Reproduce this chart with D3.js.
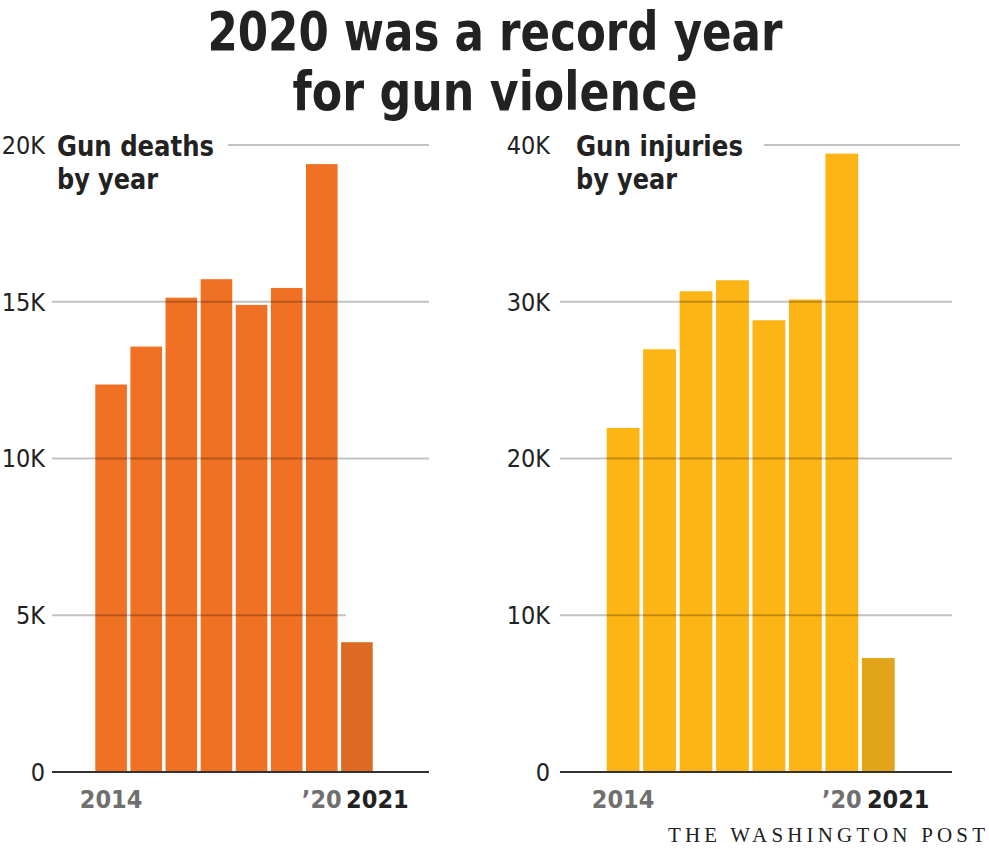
<!DOCTYPE html>
<html>
<head>
<meta charset="utf-8">
<script src="https://cdn.jsdelivr.net/npm/d3@7"></script>
<style>
  html, body { margin: 0; padding: 0; background: #fff; }
  svg { display: block; }
</style>
</head>
<body>
<svg id="chart" width="989" height="849"></svg>
<script>
// ---- data ----
const years = ["2014", "2015", "2016", "2017", "2018", "2019", "2020", "2021"];
const deaths = [12360, 13570, 15130, 15720, 14900, 15440, 19390, 4140];
const injuries = [21950, 26970, 30670, 31370, 28820, 30140, 39450, 7270];
const deathTicks = [0, 5000, 10000, 15000, 20000];
const deathTickLabels = ["0", "5K", "10K", "15K", "20K"];
const injuryTicks = [0, 10000, 20000, 30000, 40000];
const injuryTickLabels = ["0", "10K", "20K", "30K", "40K"];
const xLabelYears = ["2014", "2020", "2021"];
const xLabelTexts = ["2014", "\u201920", "2021"];
const titleLines = ["2020 was a record year", "for gun violence"];
const deathTitle = ["Gun deaths", "by year"];
const injuryTitle = ["Gun injuries", "by year"];
const credit = "THE WASHINGTON POST";

// ---- drawing ----
const svg = d3.select("#chart");
const condensed = "'Liberation Sans Narrow', 'DejaVu Sans Condensed', 'Arial Narrow', sans-serif";

svg.selectAll("text.title")
  .data(titleLines)
  .join("text")
  .attr("class", "title")
  .attr("x", 495)
  .attr("y", (d, i) => 50 + i * 60)
  .attr("text-anchor", "middle")
  .attr("font-family", condensed)
  .attr("font-weight", "bold")
  .attr("font-size", 54)
  .attr("fill", "#222")
  .attr("textLength", (d, i) => i === 0 ? 575 : 405)
  .attr("lengthAdjust", "spacingAndGlyphs")
  .text(d => d);

const panels = [
  {
    values: deaths, ticks: deathTicks, tickLabels: deathTickLabels, max: 20000,
    title: deathTitle, titleX: 57, titleW: [157, 101],
    barX0: 95.3, barX1: 372.7, gridX0: 52, gridX1: 429, topGridX0: 228,
    gridEnds: {5000: 346},
    color: "#f07124", lastColor: "#dc6a22", labelX: 45
  },
  {
    values: injuries, ticks: injuryTicks, tickLabels: injuryTickLabels, max: 40000,
    title: injuryTitle, titleX: 576, titleW: [167, 101],
    barX0: 606.7, barX1: 894.7, gridX0: 560, gridX1: 952, topGridX0: 764,
    gridEnds: {40000: 960},
    color: "#fdb515", lastColor: "#e2a51a", labelX: 550
  }
];

const yBase = 772, yTop = 145;

panels.forEach(p => {
  const g = svg.append("g");
  const x = d3.scaleBand().domain(years).range([p.barX0, p.barX1]).paddingInner(0.1).paddingOuter(0);
  const y = d3.scaleLinear().domain([0, p.max]).range([yBase, yTop]);

  // bars
  g.selectAll("rect.bar")
    .data(years.map((yr, i) => ({ yr, v: p.values[i], last: i === years.length - 1 })))
    .join("rect")
    .attr("class", "bar")
    .attr("x", d => x(d.yr))
    .attr("width", x.bandwidth())
    .attr("y", d => y(d.v))
    .attr("height", d => y(0) - y(d.v))
    .attr("fill", d => d.last ? p.lastColor : p.color);

  // gridlines (over bars)
  const gridTicks = p.ticks.filter(t => t !== 0);
  g.selectAll("line.grid")
    .data(gridTicks)
    .join("line")
    .attr("class", "grid")
    .attr("x1", t => t === p.max ? p.topGridX0 : p.gridX0)
    .attr("x2", t => p.gridEnds[t] !== undefined ? p.gridEnds[t] : p.gridX1)
    .attr("y1", t => y(t))
    .attr("y2", t => y(t))
    .attr("stroke", "#000")
    .attr("stroke-opacity", 0.24)
    .attr("stroke-width", 1.8);

  // baseline
  g.append("line")
    .attr("x1", p.gridX0).attr("x2", p.gridX1)
    .attr("y1", y(0)).attr("y2", y(0))
    .attr("stroke", "#333").attr("stroke-width", 2);

  // tick labels
  g.selectAll("text.tick")
    .data(p.ticks)
    .join("text")
    .attr("class", "tick")
    .attr("x", p.labelX)
    .attr("y", t => y(t))
    .attr("dy", "0.35em")
    .attr("text-anchor", "end")
    .attr("font-family", condensed)
    .attr("font-size", 25)
    .attr("fill", "#222")
    .text((t, i) => p.tickLabels[i]);

  // panel title
  g.selectAll("text.ptitle")
    .data(p.title)
    .join("text")
    .attr("class", "ptitle")
    .attr("x", p.titleX)
    .attr("y", (d, i) => 156 + i * 33)
    .attr("font-family", condensed)
    .attr("font-weight", "bold")
    .attr("font-size", 29)
    .attr("fill", "#222")
    .attr("textLength", (d, i) => p.titleW[i])
    .attr("lengthAdjust", "spacingAndGlyphs")
    .text(d => d);

  // x labels
  g.selectAll("text.xl")
    .data(xLabelYears.map((yr, i) => ({ yr, t: xLabelTexts[i], last: yr === years[years.length - 1] })))
    .join("text")
    .attr("class", "xl")
    .attr("x", d => d.last ? x(d.yr) + 5 : x(d.yr) + x.bandwidth() / 2)
    .attr("y", 808)
    .attr("text-anchor", d => d.last ? "start" : "middle")
    .attr("font-family", condensed)
    .attr("font-weight", "bold")
    .attr("font-size", 25)
    .attr("fill", d => d.last ? "#222" : "#6f6f6f")
    .text(d => d.t);
});

// credit
svg.append("text")
  .attr("x", 668)
  .attr("y", 842)
  .attr("font-family", "'Liberation Serif', 'DejaVu Serif', serif")
  .attr("font-size", 21)
  .attr("fill", "#222")
  .attr("textLength", 317)
  .attr("lengthAdjust", "spacing")
  .text(credit);
</script>
</body>
</html>
